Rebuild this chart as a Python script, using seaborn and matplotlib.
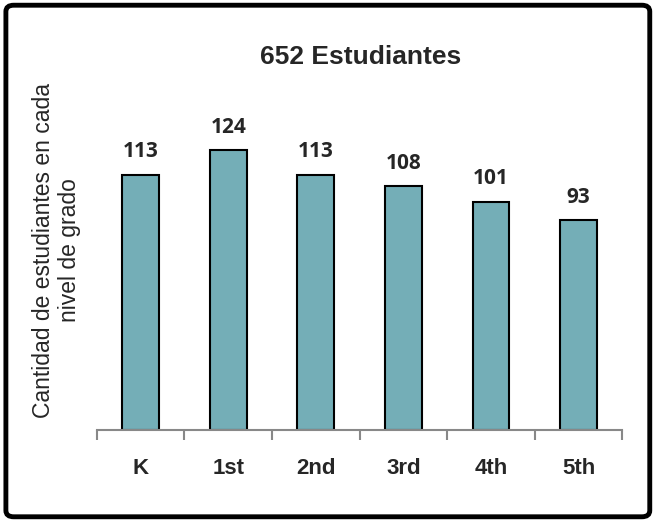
import matplotlib
matplotlib.use("Agg")
import matplotlib.pyplot as plt
import seaborn as sns
import pandas as pd
from matplotlib.patches import FancyBboxPatch

grades = ["K", "1st", "2nd", "3rd", "4th", "5th"]
students = [113, 124, 113, 108, 101, 93]
title = "652 Estudiantes"
ylabel = "Cantidad de estudiantes en cada\nnivel de grado"

df = pd.DataFrame({"grade": grades, "students": students})

sns.set_style("white")
plt.rcParams["font.family"] = ["Liberation Sans", "DejaVu Sans"]

fig = plt.figure(figsize=(6.55, 5.22), dpi=100)
ax = fig.add_axes([0.148, 0.176, 0.802, 0.606])

sns.barplot(data=df, x="grade", y="students", color="#74AEB7",
            width=0.42, edgecolor="black", linewidth=1.5, saturation=1, ax=ax)

for i, v in enumerate(students):
    ax.text(i, v + 5.5, str(v), ha="center", va="bottom", fontsize=15,
            fontweight="bold", family=["Open Sans", "DejaVu Sans"])

ax.set_ylim(0, 140)
ax.set_xlim(-0.5, len(grades) - 0.5)
ax.set_yticks([])
ax.set_xlabel("")
ax.set_ylabel("")
for s in ["top", "right", "left"]:
    ax.spines[s].set_visible(False)
ax.spines["bottom"].set_color("#888888")
ax.spines["bottom"].set_linewidth(1.5)

# ticks sit between categories
ax.set_xticks([i - 0.5 for i in range(len(grades) + 1)], minor=False)
ax.set_xticklabels([])
ax.tick_params(axis="x", which="major", length=7, width=1.5, color="#888888",
               direction="out", bottom=True)
ax.set_xticks(range(len(grades)), minor=True)
ax.set_xticklabels(grades, minor=True, fontsize=16, fontweight="bold")
ax.tick_params(axis="x", which="minor", length=0, pad=20)

fig.text(0.55, 0.89, title, ha="center", va="center", fontsize=19,
         fontweight="bold")
fig.text(0.086, 0.52, ylabel, ha="center", va="center", rotation=90,
         fontsize=16.5, linespacing=1.2)

border = FancyBboxPatch((0.009, 0.01), 0.983, 0.98,
                        boxstyle="round,pad=0,rounding_size=0.012",
                        transform=fig.transFigure, fill=False,
                        edgecolor="black", linewidth=3.5)
fig.patches.append(border)

fig.savefig("out.png", dpi=100)
